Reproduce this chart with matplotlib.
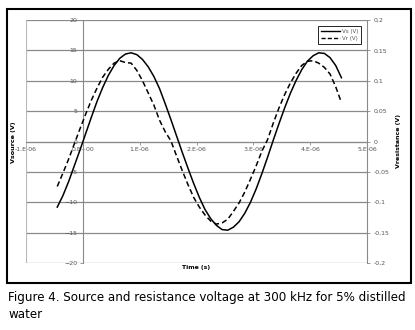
import matplotlib.pyplot as plt
import matplotlib.ticker as mticker
from matplotlib.patches import Rectangle
from matplotlib.lines import Line2D

# ── Data ──────────────────────────────────────────────────────────────────────
time_us = [
    -0.45, -0.35, -0.25, -0.15, -0.05, 0.05, 0.15, 0.25, 0.35, 0.45,
    0.55, 0.65, 0.75, 0.85, 0.95, 1.05, 1.15, 1.25, 1.35, 1.45,
    1.55, 1.65, 1.75, 1.85, 1.95, 2.05, 2.15, 2.25, 2.35, 2.45,
    2.55, 2.65, 2.75, 2.85, 2.95, 3.05, 3.15, 3.25, 3.35, 3.45,
    3.55, 3.65, 3.75, 3.85, 3.95, 4.05, 4.15, 4.25, 4.35, 4.45, 4.55,
]
vs_volts = [
    -10.8, -8.9, -6.6, -4.0, -1.4, 1.3, 4.0, 6.6, 8.9, 10.9,
    12.5, 13.7, 14.4, 14.6, 14.3, 13.5, 12.3, 10.7, 8.7, 6.2,
    3.6, 0.9, -1.8, -4.4, -6.9, -9.2, -11.2, -12.7, -13.8, -14.5,
    -14.6, -14.1, -13.2, -11.8, -10.0, -7.8, -5.3, -2.6, 0.2, 2.9,
    5.5, 7.9, 10.0, 11.8, 13.2, 14.1, 14.6, 14.5, 13.8, 12.5, 10.5,
]
vr_volts = [
    -0.074, -0.052, -0.029, -0.004, 0.021, 0.045, 0.068, 0.088, 0.106, 0.119,
    0.129, 0.133, 0.130, 0.129, 0.117, 0.100, 0.080, 0.060, 0.035, 0.016,
    0.001, -0.024, -0.048, -0.071, -0.092, -0.108, -0.121, -0.131, -0.136, -0.134,
    -0.128, -0.115, -0.101, -0.083, -0.062, -0.040, -0.016, 0.003, 0.030, 0.055,
    0.077, 0.096, 0.112, 0.125, 0.132, 0.133, 0.129, 0.122, 0.111, 0.090, 0.064,
]

x_ticks = [-1e-6, 0, 1e-6, 2e-6, 3e-6, 4e-6, 5e-6]
x_tick_labels = ["-1.E-06", "0.E+00", "1.E-06", "2.E-06", "3.E-06", "4.E-06", "5.E-06"]
left_ticks = [-20, -15, -10, -5, 0, 5, 10, 15, 20]
right_ticks = [-0.2, -0.15, -0.1, -0.05, 0, 0.05, 0.1, 0.15, 0.2]

caption_1 = "Figure 4. Source and resistance voltage at 300 kHz for 5% distilled"
caption_2 = "water"

GRID = "#8a8a8a"
TXT = "#555555"

time_s = [t * 1e-6 for t in time_us]

fig = plt.figure(figsize=(4.15, 3.30), dpi=100)
ax = fig.add_axes([26 / 415, 1 - 263 / 330, (367 - 26) / 415, (263 - 20) / 330])
ax2 = ax.twinx()

ax.plot(time_s, vs_volts, color="black", lw=1.1, zorder=3)
ax2.plot(time_s, vr_volts, color="black", lw=1.1, ls=(0, (3.5, 2)), zorder=3)

ax.set_xlim(-1e-6, 5e-6)
ax.set_ylim(-20, 20)
ax2.set_ylim(-0.2, 0.2)

# left axis crosses at t = 0, time axis crosses at V = 0
ax.spines["left"].set_position(("data", 0))
ax.spines["bottom"].set_position(("data", 0))
ax.spines["top"].set_visible(False)
ax.spines["right"].set_visible(False)
for s in ["left", "bottom"]:
    ax.spines[s].set_color(GRID)
    ax.spines[s].set_linewidth(0.8)
for s in ["left", "top", "bottom"]:
    ax2.spines[s].set_visible(False)
ax2.spines["right"].set_color(GRID)
ax2.spines["right"].set_linewidth(0.8)

ax.set_yticks(left_ticks)
ax.set_xticks(x_ticks)
ax.set_xticklabels(x_tick_labels)
ax2.set_yticks(right_ticks)
ax2.yaxis.set_major_formatter(
    mticker.FuncFormatter(lambda v, _: f"{v:g}".replace(".", ","))
)

ax.yaxis.grid(True, color=GRID, lw=0.9)
ax.axvline(-1e-6, color="#b8b8b8", lw=0.8)
ax.set_axisbelow(True)

ax.tick_params(axis="both", labelsize=4.5, labelcolor=TXT, color=GRID,
               length=2.5, width=0.6, pad=1.5)
ax2.tick_params(axis="y", labelsize=4.5, labelcolor=TXT, color=GRID,
                length=2.5, width=0.6, pad=2)

handles = [
    Line2D([], [], color="black", lw=1.0),
    Line2D([], [], color="black", lw=1.0, ls=(0, (3, 1.5))),
]
leg = ax.legend(handles, ["Vs (V)", "Vr (V)"], loc="upper right",
                bbox_to_anchor=(0.99, 0.985), fontsize=4, handlelength=3.5,
                fancybox=False, framealpha=1, borderpad=0.5, labelspacing=0.4,
                handletextpad=0.3)
leg.get_frame().set_edgecolor("black")
leg.get_frame().set_linewidth(0.6)
for t in leg.get_texts():
    t.set_color(TXT)

fig.text(13 / 415, 1 - 142 / 330, "Vsource (V)", rotation=90, ha="center",
         va="center", fontsize=4.6, fontweight="bold")
fig.text(398 / 415, 1 - 141 / 330, "Vresistance (V)", rotation=90, ha="center",
         va="center", fontsize=4.5, fontweight="bold")
fig.text(196 / 415, 1 - 268 / 330, "Time (s)", ha="center", va="center",
         fontsize=4.4, fontweight="bold")

fig.patches.append(Rectangle((7 / 415, 1 - 283 / 330), 404 / 415, 274 / 330,
                             transform=fig.transFigure, fill=False,
                             edgecolor="black", lw=1.5))

fig.text(8 / 415, 1 - 297 / 330, caption_1, ha="left", va="center", fontsize=8.6)
fig.text(8 / 415, 1 - 314 / 330, caption_2, ha="left", va="center", fontsize=8.6)

plt.savefig("out.png", dpi=100)
